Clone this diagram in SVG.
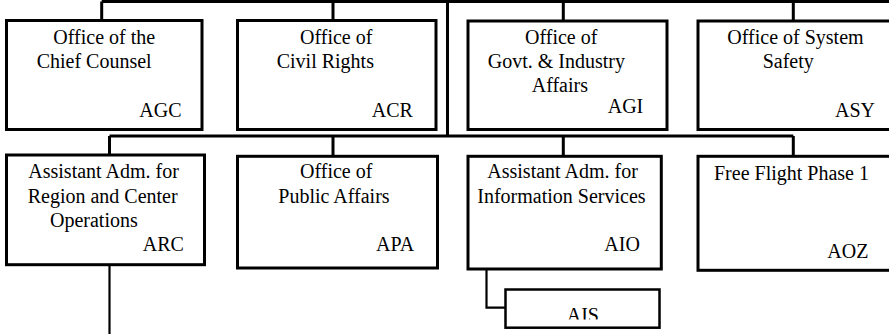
<svg xmlns="http://www.w3.org/2000/svg" width="889" height="334" viewBox="0 0 889 334">
<style>
.box{fill:#fff;stroke:#000;stroke-width:3}
.small{fill:#fff;stroke:#000;stroke-width:2.5}
.ln{fill:none;stroke:#000;stroke-width:3}
.ln2{fill:none;stroke:#000;stroke-width:2.2}
text{font-family:"Liberation Serif","Times New Roman",serif;font-size:20px;fill:#000}
</style>
<defs>
<clipPath id="aisclip"><rect x="506" y="290" width="153" height="29.5"/></clipPath>
</defs>
<rect width="889" height="334" fill="#fff"/>
<g id="connectors">
<path class="ln" d="M101.7,1.5 H889 M101.7,1.5 V20 M333,1.5 V20 M563.3,1.5 V20 M793.3,1.5 V20"/>
<path class="ln" d="M447.5,0 V136"/>
<path class="ln" d="M109.5,136 H793.3 M109.5,136 V155 M333,136 V156 M563.3,136 V156 M793.3,136 V156"/>
<path class="ln2" d="M109.5,265 V334"/>
<path class="ln2" d="M486.5,269 V307.7 H505"/>
</g>
<g id="agc">
<rect class="box" x="6.5" y="20.5" width="195.5" height="109"/>
<text x="53.3" y="43.7">Office of the</text>
<text x="36.7" y="68">Chief Counsel</text>
<text x="139.3" y="116.7">AGC</text>
</g>
<g id="acr">
<rect class="box" x="237.5" y="20.5" width="198.5" height="109"/>
<text x="300" y="44">Office of</text>
<text x="276.7" y="68">Civil Rights</text>
<text x="371.7" y="116.7">ACR</text>
</g>
<g id="agi">
<rect class="box" x="468" y="21" width="199" height="108.5"/>
<text x="525" y="44">Office of</text>
<text x="487.7" y="68">Govt. &amp; Industry</text>
<text x="531.7" y="91.5">Affairs</text>
<text x="607.7" y="113.3">AGI</text>
</g>
<g id="asy">
<rect class="box" x="698" y="21" width="200" height="108.5"/>
<text x="727.3" y="44">Office of System</text>
<text x="762.7" y="68">Safety</text>
<text x="835" y="116.7">ASY</text>
</g>
<g id="arc">
<rect class="box" x="6.5" y="155" width="198" height="109.7"/>
<text x="28.3" y="178.3">Assistant Adm. for</text>
<text x="27.7" y="202.7">Region and Center</text>
<text x="50" y="226.7">Operations</text>
<text x="142.7" y="251">ARC</text>
</g>
<g id="apa">
<rect class="box" x="237.5" y="156.3" width="200" height="111.7"/>
<text x="300" y="178.3">Office of</text>
<text x="278.3" y="202.7">Public Affairs</text>
<text x="376" y="251">APA</text>
</g>
<g id="aio">
<rect class="box" x="468" y="156.3" width="193.3" height="112.7"/>
<text x="487.3" y="178.3">Assistant Adm. for</text>
<text x="477.3" y="202.7">Information Services</text>
<text x="604.3" y="251">AIO</text>
</g>
<g id="aoz">
<rect class="box" x="698" y="156.3" width="200" height="114"/>
<text x="714" y="180">Free Flight Phase 1</text>
<text x="827.3" y="258.3">AOZ</text>
</g>
<g id="ais">
<rect class="small" x="505.5" y="289.5" width="154" height="38.2"/>
<text x="566.7" y="321.5" clip-path="url(#aisclip)">AIS</text>
</g>
</svg>
